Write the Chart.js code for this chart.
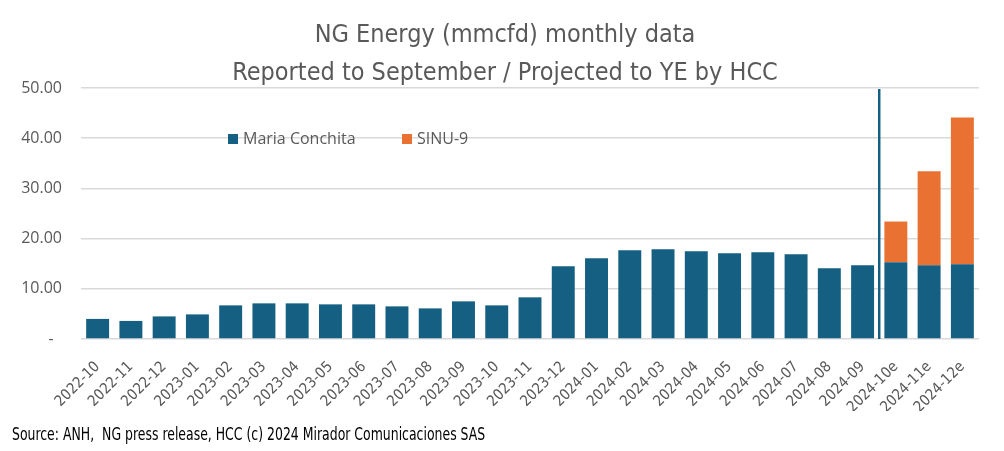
<!DOCTYPE html>
<html>
<head>
<meta charset="utf-8">
<script src="https://cdn.jsdelivr.net/npm/chart.js@4/dist/chart.umd.min.js"></script>
<style>
  html, body { margin: 0; padding: 0; background: #fff; }
  #wrap { width: 1004px; height: 451px; position: relative; }
</style>
</head>
<body>
<div id="wrap"><canvas id="ngChart"></canvas></div>
<script>
// Datos (mmcfd)
const months = [
  "2022-10", "2022-11", "2022-12", "2023-01", "2023-02", "2023-03", "2023-04",
  "2023-05", "2023-06", "2023-07", "2023-08", "2023-09", "2023-10", "2023-11",
  "2023-12", "2024-01", "2024-02", "2024-03", "2024-04", "2024-05", "2024-06",
  "2024-07", "2024-08", "2024-09", "2024-10e", "2024-11e", "2024-12e"
];
const mariaConchita = [
  4.0, 3.6, 4.5, 4.9, 6.7, 7.1, 7.1,
  6.9, 6.9, 6.5, 6.1, 7.5, 6.7, 8.3,
  14.5, 16.1, 17.7, 17.9, 17.5, 17.1, 17.3,
  16.9, 14.1, 14.7, 15.3, 14.7, 14.9
];
const sinu9 = [
  0, 0, 0, 0, 0, 0, 0,
  0, 0, 0, 0, 0, 0, 0,
  0, 0, 0, 0, 0, 0, 0,
  0, 0, 0, 8.1, 18.7, 29.2
];
const yTicks = [0, 10, 20, 30, 40, 50];
const projectedFrom = "2024-10e";
const titleLines = ["NG Energy (mmcfd) monthly data", "Reported to September / Projected to YE by HCC"];
const sourceNote = "Source: ANH,  NG press release, HCC (c) 2024 Mirador Comunicaciones SAS";

const BLUE = "#156082";
const ORANGE = "#E97132";
const GREY_TEXT = "#595959";
const NARROW = '"Liberation Sans Narrow", "DejaVu Sans Condensed", sans-serif';
const REGULAR = '"Open Sans", sans-serif';

// linea vertical entre reportado y proyectado
const splitLine = {
  id: "splitLine",
  afterDatasetsDraw(chart) {
    const x = chart.scales.x;
    const y = chart.scales.y;
    const idx = months.indexOf(projectedFrom);
    const px = x.getPixelForValue(idx - 0.5);
    const ctx = chart.ctx;
    ctx.save();
    ctx.strokeStyle = BLUE;
    ctx.lineWidth = 2.5;
    ctx.beginPath();
    ctx.moveTo(px, y.getPixelForValue(49.8));
    ctx.lineTo(px, y.getPixelForValue(0));
    ctx.stroke();
    ctx.restore();
  },
};

// titulo, leyenda dentro del area y nota de fuente
const extras = {
  id: "extras",
  afterDraw(chart) {
    const ctx = chart.ctx;
    ctx.save();

    ctx.font = "25px " + NARROW;
    ctx.fillStyle = GREY_TEXT;
    ctx.textAlign = "center";
    ctx.textBaseline = "middle";
    ctx.fillText(titleLines[0], chart.width / 2 + 3, 35);
    ctx.fillText(titleLines[1], chart.width / 2 + 3, 73);

    const items = [
      { x: 228, ds: chart.data.datasets[0] },
      { x: 402, ds: chart.data.datasets[1] },
    ];
    ctx.textAlign = "left";
    ctx.font = "16px " + REGULAR;
    items.forEach((it) => {
      ctx.fillStyle = it.ds.backgroundColor;
      ctx.fillRect(it.x, 134, 10, 10);
      ctx.fillStyle = GREY_TEXT;
      ctx.fillText(it.ds.label, it.x + 15, 139);
    });

    // fuente angosta: se comprime en horizontal
    ctx.font = "18px " + NARROW;
    ctx.fillStyle = "#000";
    ctx.textBaseline = "alphabetic";
    ctx.translate(12, 440);
    ctx.scale(0.77, 1);
    ctx.fillText(sourceNote, 0, 0);
    ctx.restore();
  },
};

const ctx = document.getElementById("ngChart").getContext("2d");
new Chart(ctx, {
  type: "bar",
  data: {
    labels: months,
    datasets: [
      { label: "Maria Conchita", data: mariaConchita, backgroundColor: BLUE },
      { label: "SINU-9", data: sinu9, backgroundColor: ORANGE },
    ],
  },
  options: {
    responsive: true,
    maintainAspectRatio: false,
    animation: false,
    layout: { padding: { left: 0, right: 25, top: 88, bottom: 40 } },
    datasets: {
      bar: { barPercentage: 1, categoryPercentage: 0.69 },
    },
    scales: {
      x: {
        stacked: true,
        grid: { display: false },
        border: { display: false },
        ticks: {
          autoSkip: false,
          minRotation: 45,
          maxRotation: 45,
          color: GREY_TEXT,
          font: { family: NARROW, size: 15 },
          padding: 11,
        },
        afterFit: (s) => { s.height = 72; },
      },
      y: {
        stacked: true,
        min: 0,
        max: 50,
        afterBuildTicks: (s) => { s.ticks = yTicks.map((v) => ({ value: v })); },
        grid: { color: "#D9D9D9", lineWidth: 1.5, drawTicks: false },
        border: { display: false },
        ticks: {
          color: GREY_TEXT,
          font: { family: REGULAR, size: 16 },
          padding: 19,
          callback: (v) => (v === 0 ? "-  " : v.toFixed(2)),
        },
        afterFit: (s) => { s.width = 81; },
      },
    },
    plugins: {
      legend: { display: false },
      tooltip: { enabled: false },
      title: { display: false },
    },
  },
  plugins: [splitLine, extras],
});
</script>
</body>
</html>
